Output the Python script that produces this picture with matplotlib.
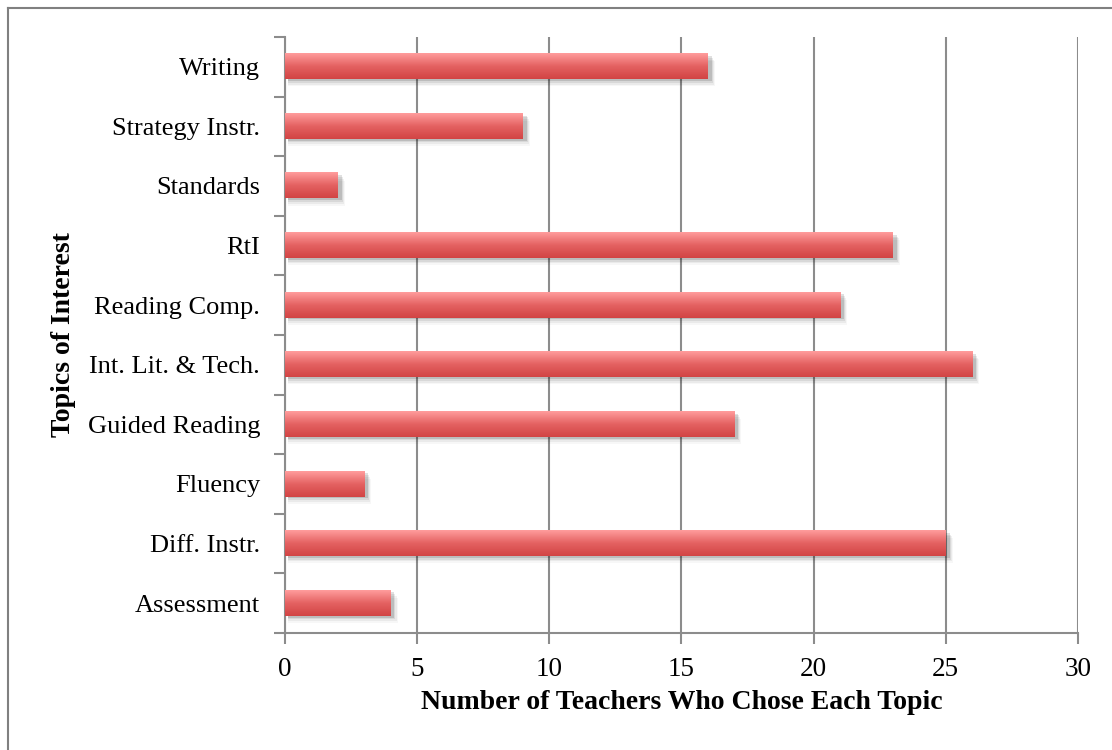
import matplotlib
matplotlib.use("Agg")
import matplotlib.pyplot as plt
import numpy as np
from matplotlib.colors import LinearSegmentedColormap
from matplotlib.patches import Rectangle
from matplotlib.lines import Line2D

topics = ["Assessment", "Diff. Instr.", "Fluency", "Guided Reading", "Int. Lit. & Tech.",
          "Reading Comp.", "RtI", "Standards", "Strategy Instr.", "Writing"]
counts = [4, 25, 3, 17, 26, 21, 23, 2, 9, 16]
x_ticks = [0, 5, 10, 15, 20, 25, 30]

plt.rcParams['font.family'] = ['Liberation Serif', 'DejaVu Serif']

fig = plt.figure(figsize=(11.12, 7.5), dpi=100)
ax = fig.add_axes([0.2563, 0.156, 0.9694 - 0.2563, 0.9507 - 0.156])

grey = "#8c8c8c"
cmap = LinearSegmentedColormap.from_list("g", ["#d24444", "#e46262", "#ff9c9c"])
grad = np.linspace(0, 1, 64).reshape(-1, 1)
h = 0.42
ypos = np.arange(len(topics))

for y, v in zip(ypos, counts):
    # soft shadow below the bar
    for k, a in enumerate([0.12, 0.08, 0.05, 0.03]):
        off = 0.03 + 0.03 * k
        ax.add_patch(Rectangle((0.1, y - h / 2 - off), v + 0.04 * (k + 1), h, facecolor="black",
                               alpha=a, edgecolor="none", zorder=2))
    ax.imshow(grad, cmap=cmap, aspect="auto", extent=[0, v, y - h / 2, y + h / 2],
              origin="lower", zorder=3, interpolation="bilinear")

ax.set_xlim(0, 30)
ax.set_ylim(-0.5, len(topics) - 0.5)
ax.set_xticks(x_ticks)
ax.set_xticklabels([str(t) for t in x_ticks], fontsize=19.5)
ax.set_yticks(ypos)
ax.set_yticklabels(topics, fontsize=19)
ax.set_yticks(np.arange(-0.5, len(topics), 1), minor=True)
ax.tick_params(axis="y", which="major", length=0, pad=18)
ax.tick_params(axis="y", which="minor", length=8, width=1.5, color=grey)
ax.tick_params(axis="x", which="major", length=8, width=1.5, color=grey, pad=9)
ax.xaxis.grid(True, color=grey, linewidth=1.5, zorder=1)
ax.set_axisbelow(True)
for s in ["top", "right"]:
    ax.spines[s].set_visible(False)
for s in ["left", "bottom"]:
    ax.spines[s].set_color(grey)
    ax.spines[s].set_linewidth(1.5)

ax.set_xlabel("Number of Teachers Who Chose Each Topic", fontsize=20, fontweight="bold", labelpad=6)
ax.set_ylabel("Topics of Interest", fontsize=20, fontweight="bold", labelpad=8)

fig.add_artist(Line2D([8 / 1112, 8 / 1112], [0, 1 - 8 / 750], color="#808080", linewidth=1.5,
                      transform=fig.transFigure))
fig.add_artist(Line2D([8 / 1112, 1], [1 - 8 / 750, 1 - 8 / 750], color="#808080", linewidth=1.5,
                      transform=fig.transFigure))

fig.savefig("out.png", dpi=100)
